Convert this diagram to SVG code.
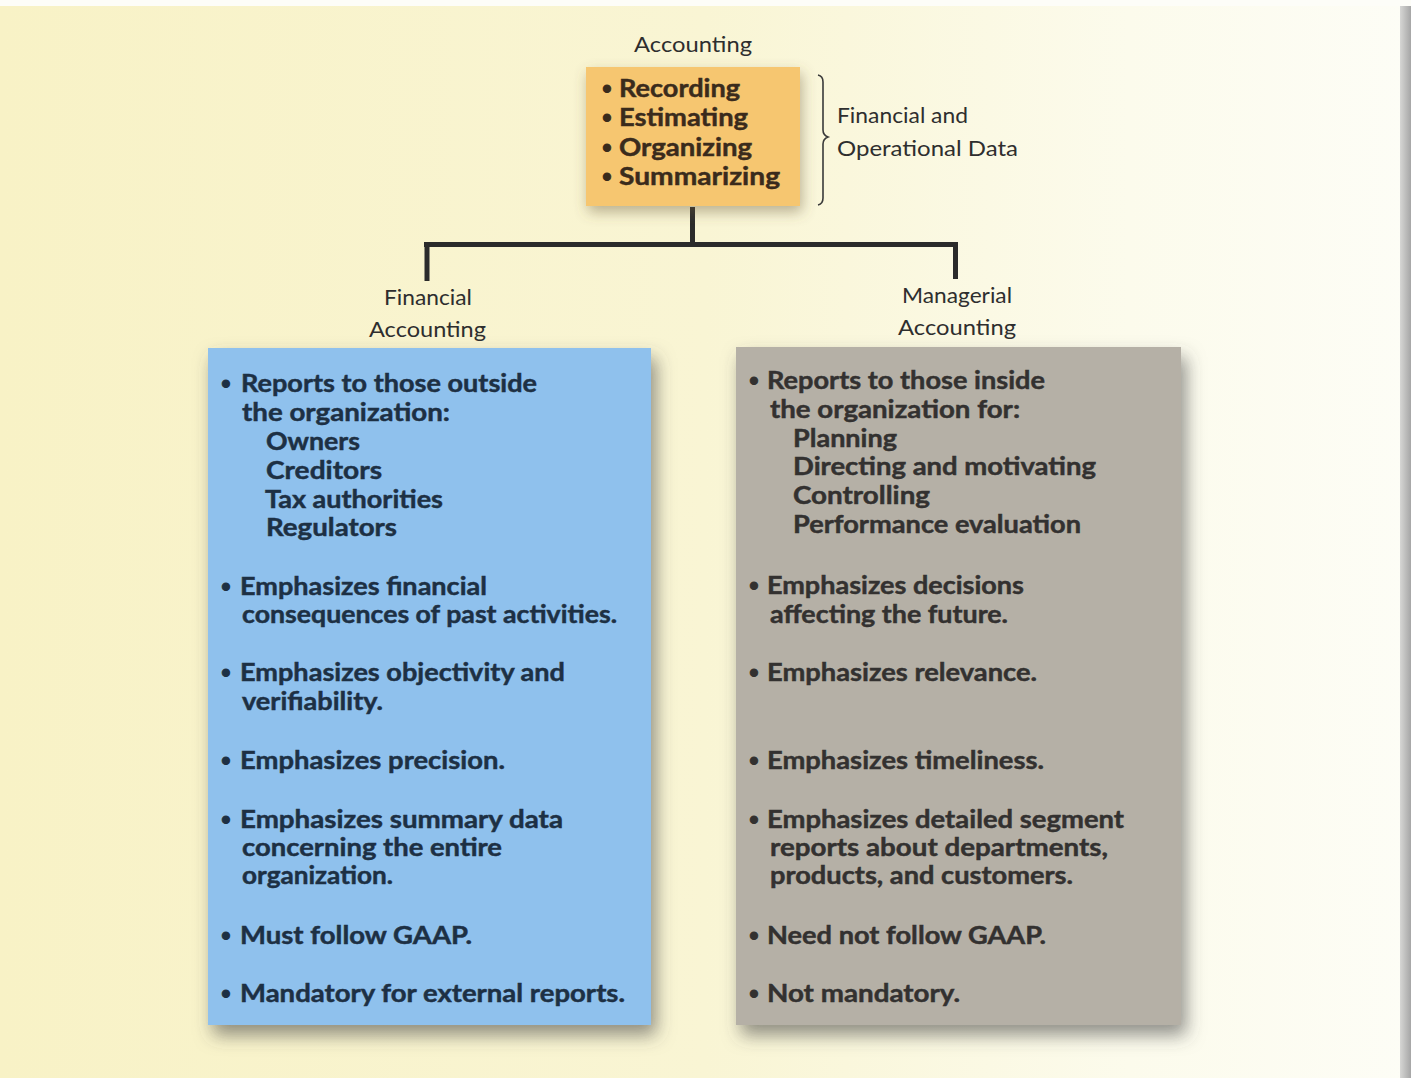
<svg xmlns="http://www.w3.org/2000/svg" width="1411" height="1078" viewBox="0 0 1411 1078">
  <defs>
    <linearGradient id="page" x1="0" y1="0" x2="1" y2="0">
      <stop offset="0" stop-color="#f8f2c6"/>
      <stop offset="0.5" stop-color="#f9f5d4"/>
      <stop offset="0.8" stop-color="#fcfbec"/>
      <stop offset="1" stop-color="#fdfdf6"/>
    </linearGradient>
    <linearGradient id="edge" x1="0" y1="0" x2="1" y2="0">
      <stop offset="0" stop-color="#d6d6d4"/>
      <stop offset="1" stop-color="#a6a6a6"/>
    </linearGradient>
    <filter id="shadow" x="-10%" y="-10%" width="130%" height="130%">
      <feDropShadow dx="5" dy="10" stdDeviation="9" flood-color="#4a4a4a" flood-opacity="0.6"/>
    </filter>
    <filter id="shadowSoft" x="-15%" y="-20%" width="130%" height="150%">
      <feDropShadow dx="2" dy="6" stdDeviation="7" flood-color="#6a5a3a" flood-opacity="0.45"/>
    </filter>
  </defs>
  <style>
    .label { font-family: Lato, "Liberation Sans", sans-serif; font-size: 22px; fill: #2e2e2e; }
    .item, .bul { font-family: Lato, "Liberation Sans", sans-serif; font-weight: bold; }
    .item { font-size: 24px; stroke-width: 0.45; }
    .bul { font-size: 17px; }
    .orange .item, .orange .bul { fill: #3a2b1c; stroke: #3a2b1c; }
    .fin .item, .fin .bul { fill: #1d3044; stroke: #1d3044; }
    .man .item, .man .bul { fill: #333130; stroke: #333130; }
    .conn { stroke: #2b2b2b; stroke-width: 5; fill: none; stroke-linecap: butt; }
    .brace { stroke: #3a3a3a; stroke-width: 1.6; fill: none; }
  </style>

  <!-- page -->
  <rect x="0" y="0" width="1411" height="1078" fill="url(#page)"/>
  <rect x="0" y="0" width="1411" height="6" fill="#fdfdf8"/>
  <rect x="1400" y="6" width="11" height="1072" fill="url(#edge)"/>

  <!-- connectors -->
  <g id="connectors">
    <path class="conn" d="M692.5 207 V244"/>
    <path class="conn" d="M424 244.5 H958" stroke-width="5.5"/>
    <path class="conn" d="M427 244 V281"/>
    <path class="conn" d="M955.5 244 V279"/>
    <path class="brace" d="M818 75 Q823 76 823 82 V130 Q823 135 828 137 Q823 139 823 144 V198 Q823 204 818 205"/>
  </g>

  <!-- top node: accounting activities -->
  <g id="accounting" class="orange">
    <text class="label" x="634" y="52" textLength="118" lengthAdjust="spacingAndGlyphs">Accounting</text>
    <rect x="586" y="67" width="214" height="139" fill="#f6c670" filter="url(#shadowSoft)"/>
    <text class="bul" x="602" y="94">•</text>
    <text class="item" x="619" y="97" textLength="121" lengthAdjust="spacingAndGlyphs">Recording</text>
    <text class="bul" x="602" y="123">•</text>
    <text class="item" x="619" y="126" textLength="129" lengthAdjust="spacingAndGlyphs">Estimating</text>
    <text class="bul" x="602" y="153">•</text>
    <text class="item" x="619" y="156" textLength="133" lengthAdjust="spacingAndGlyphs">Organizing</text>
    <text class="bul" x="602" y="182">•</text>
    <text class="item" x="619" y="185" textLength="161" lengthAdjust="spacingAndGlyphs">Summarizing</text>
  </g>

  <g id="data-label">
    <text class="label" x="837" y="123" textLength="131" lengthAdjust="spacingAndGlyphs">Financial and</text>
    <text class="label" x="837" y="156" textLength="181" lengthAdjust="spacingAndGlyphs">Operational Data</text>
  </g>

  <!-- financial accounting -->
  <g id="financial" class="fin">
    <text class="label" x="384" y="305" textLength="88" lengthAdjust="spacingAndGlyphs">Financial</text>
    <text class="label" x="369" y="337" textLength="117" lengthAdjust="spacingAndGlyphs">Accounting</text>
    <rect x="208" y="348" width="443" height="677" fill="#8fc1ed" filter="url(#shadow)"/>
    <text class="bul" x="221" y="389">•</text>
    <text class="item" x="241" y="392" textLength="296" lengthAdjust="spacingAndGlyphs">Reports to those outside</text>
    <text class="item" x="242" y="421" textLength="208" lengthAdjust="spacingAndGlyphs">the organization:</text>
    <text class="item" x="266" y="450" textLength="94" lengthAdjust="spacingAndGlyphs">Owners</text>
    <text class="item" x="266" y="479" textLength="116" lengthAdjust="spacingAndGlyphs">Creditors</text>
    <text class="item" x="265" y="508" textLength="178" lengthAdjust="spacingAndGlyphs">Tax authorities</text>
    <text class="item" x="266" y="536" textLength="131" lengthAdjust="spacingAndGlyphs">Regulators</text>
    <text class="bul" x="221" y="592">•</text>
    <text class="item" x="240" y="595" textLength="247" lengthAdjust="spacingAndGlyphs">Emphasizes financial</text>
    <text class="item" x="242" y="623" textLength="375" lengthAdjust="spacingAndGlyphs">consequences of past activities.</text>
    <text class="bul" x="221" y="678">•</text>
    <text class="item" x="240" y="681" textLength="325" lengthAdjust="spacingAndGlyphs">Emphasizes objectivity and</text>
    <text class="item" x="242" y="710" textLength="141" lengthAdjust="spacingAndGlyphs">verifiability.</text>
    <text class="bul" x="221" y="766">•</text>
    <text class="item" x="240" y="769" textLength="265" lengthAdjust="spacingAndGlyphs">Emphasizes precision.</text>
    <text class="bul" x="221" y="825">•</text>
    <text class="item" x="240" y="828" textLength="323" lengthAdjust="spacingAndGlyphs">Emphasizes summary data</text>
    <text class="item" x="242" y="856" textLength="260" lengthAdjust="spacingAndGlyphs">concerning the entire</text>
    <text class="item" x="242" y="884" textLength="151" lengthAdjust="spacingAndGlyphs">organization.</text>
    <text class="bul" x="221" y="941">•</text>
    <text class="item" x="240" y="944" textLength="232" lengthAdjust="spacingAndGlyphs">Must follow GAAP.</text>
    <text class="bul" x="221" y="999">•</text>
    <text class="item" x="240" y="1002" textLength="385" lengthAdjust="spacingAndGlyphs">Mandatory for external reports.</text>
  </g>

  <!-- managerial accounting -->
  <g id="managerial" class="man">
    <text class="label" x="902" y="303" textLength="110" lengthAdjust="spacingAndGlyphs">Managerial</text>
    <text class="label" x="898" y="335" textLength="118" lengthAdjust="spacingAndGlyphs">Accounting</text>
    <rect x="736" y="347" width="445" height="678" fill="#b5b0a6" filter="url(#shadow)"/>
    <text class="bul" x="749" y="386">•</text>
    <text class="item" x="767" y="389" textLength="278" lengthAdjust="spacingAndGlyphs">Reports to those inside</text>
    <text class="item" x="770" y="418" textLength="250" lengthAdjust="spacingAndGlyphs">the organization for:</text>
    <text class="item" x="793" y="447" textLength="104" lengthAdjust="spacingAndGlyphs">Planning</text>
    <text class="item" x="793" y="475" textLength="303" lengthAdjust="spacingAndGlyphs">Directing and motivating</text>
    <text class="item" x="793" y="504" textLength="137" lengthAdjust="spacingAndGlyphs">Controlling</text>
    <text class="item" x="793" y="533" textLength="288" lengthAdjust="spacingAndGlyphs">Performance evaluation</text>
    <text class="bul" x="749" y="591">•</text>
    <text class="item" x="767" y="594" textLength="257" lengthAdjust="spacingAndGlyphs">Emphasizes decisions</text>
    <text class="item" x="770" y="623" textLength="238" lengthAdjust="spacingAndGlyphs">affecting the future.</text>
    <text class="bul" x="749" y="678">•</text>
    <text class="item" x="767" y="681" textLength="270" lengthAdjust="spacingAndGlyphs">Emphasizes relevance.</text>
    <text class="bul" x="749" y="766">•</text>
    <text class="item" x="767" y="769" textLength="277" lengthAdjust="spacingAndGlyphs">Emphasizes timeliness.</text>
    <text class="bul" x="749" y="825">•</text>
    <text class="item" x="767" y="828" textLength="357" lengthAdjust="spacingAndGlyphs">Emphasizes detailed segment</text>
    <text class="item" x="770" y="856" textLength="338" lengthAdjust="spacingAndGlyphs">reports about departments,</text>
    <text class="item" x="770" y="884" textLength="303" lengthAdjust="spacingAndGlyphs">products, and customers.</text>
    <text class="bul" x="749" y="941">•</text>
    <text class="item" x="767" y="944" textLength="279" lengthAdjust="spacingAndGlyphs">Need not follow GAAP.</text>
    <text class="bul" x="749" y="999">•</text>
    <text class="item" x="767" y="1002" textLength="193" lengthAdjust="spacingAndGlyphs">Not mandatory.</text>
  </g>
</svg>
